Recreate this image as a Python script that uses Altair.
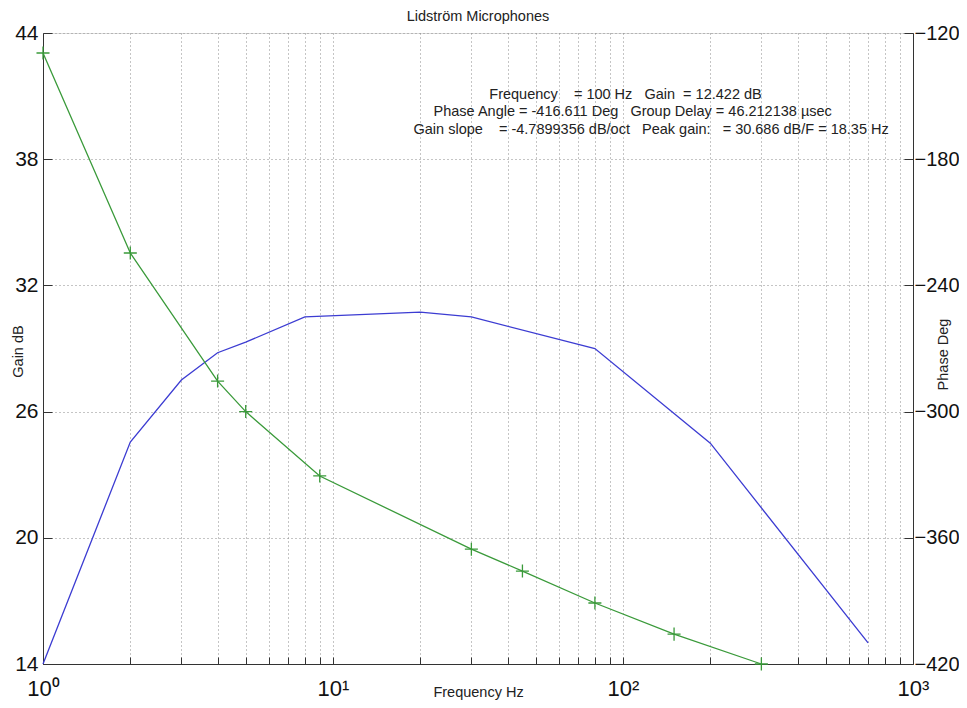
import altair as alt
import pandas as pd

# Gain curve (blue, left axis)
gain_freq = [1, 2, 3, 4, 5, 8, 20, 30, 80, 200, 700]
gain_db = [14.0, 24.55, 27.5, 28.8, 29.3, 30.5, 30.73, 30.5, 29.0, 24.5, 15.0]

# Phase curve (green with + markers, right axis)
phase_freq = [1, 2, 4, 5, 9, 30, 45, 80, 150, 300]
phase_deg = [-129.5, -224.6, -285.5, -300.0, -330.6, -365.4, -375.8, -391.0, -405.8, -420.0]

# Axis ticks
x_ticks = [1, 2, 3, 4, 5, 6, 7, 8, 9,
           10, 20, 30, 40, 50, 60, 70, 80, 90,
           100, 200, 300, 400, 500, 600, 700, 800, 900, 1000]
gain_ticks = [14, 20, 26, 32, 38, 44]
phase_ticks = [-420, -360, -300, -240, -180, -120]

# Annotation block
NB = "\u00a0"
ann_text = [
    f"Frequency{NB*4}={NB}100 Hz{NB*3}Gain{NB*2}={NB}12.422 dB",
    f"Phase Angle = -416.611 Deg{NB*2} Group Delay = 46.212138 \u00b5sec",
    f"Gain slope{NB*4}= -4.7899356 dB/oct{NB*3}Peak gain:{NB*3}= 30.686 dB/F = 18.35 Hz",
]
ann_freq = [102, 108, 125]
ann_gain = [41.05, 40.24, 39.39]

FONT = "Liberation Sans"
BLUE = "#3c3cd2"
GREEN = "#3a9a3a"
GRID = "#8a8a8a"
AXC = "#333333"
SMALL = 14.5

gain_df = pd.DataFrame({"f": gain_freq, "v": gain_db})
phase_df = pd.DataFrame({"f": phase_freq, "p": phase_deg})
ann_df = pd.DataFrame({"f": ann_freq, "v": ann_gain, "t": ann_text})

x_scale = alt.Scale(type="log", domain=[1, 1000], nice=False)
x_axis = alt.Axis(
    values=x_ticks, orient="bottom",
    labelExpr="datum.value == 1 ? '10\u2070' : datum.value == 10 ? '10\u00b9' : datum.value == 100 ? '10\u00b2' : datum.value == 1000 ? '10\u00b3' : ''",
    title="Frequency Hz",
    titleFontSize=SMALL, titleFontWeight="normal", titleFont=FONT, titleColor="#222",
    titleY=28, titleBaseline="middle",
    labelFontSize=22, labelFont=FONT, labelColor="#111", labelPadding=14,
    labelOverlap=False, labelFlush=False,
    grid=True, gridDash=[1, 3], gridColor=GRID, gridWidth=1,
    ticks=False, domainColor=AXC, domainWidth=1,
)
# inside tick marks (axis shifted into the plot, ticks pointing back to the edge)
x_tick_axis = alt.Axis(
    values=x_ticks, orient="bottom", offset=-7, tickSize=7, tickColor=AXC,
    labels=False, domain=False, grid=False, title="",
)

gain_scale = alt.Scale(domain=[14, 44], nice=False, zero=False)
left_axis = alt.Axis(
    values=gain_ticks, orient="left",
    title="Gain dB", titleFontSize=SMALL, titleFontWeight="normal", titleFont=FONT, titleColor="#222",
    titleX=-25, titleY=318, titleAngle=270, titleBaseline="middle", titleAlign="center",
    labelFontSize=21, labelFont=FONT, labelColor="#111", labelPadding=5,
    grid=True, gridDash=[1, 3], gridColor=GRID, gridWidth=1,
    ticks=False, domainColor=AXC, domainWidth=1,
)
left_tick_axis = alt.Axis(
    values=gain_ticks, orient="left", offset=-9, tickSize=9, tickColor=AXC,
    labels=False, domain=False, grid=False, title="",
)

phase_scale = alt.Scale(domain=[-420, -120], nice=False, zero=False)
right_axis = alt.Axis(
    values=phase_ticks, orient="right",
    title="Phase Deg", titleFontSize=SMALL, titleFontWeight="normal", titleFont=FONT, titleColor="#222",
    titleX=30, titleY=321, titleAngle=270, titleBaseline="middle", titleAlign="center",
    labelFontSize=20, labelFont=FONT, labelColor="#111", labelPadding=1,
    grid=False, ticks=False, domainColor=AXC, domainWidth=1,
)
right_tick_axis = alt.Axis(
    values=phase_ticks, orient="right", offset=-9, tickSize=9, tickColor=AXC,
    labels=False, domain=False, grid=False, title="",
)

blue_line = alt.Chart(gain_df).mark_line(color=BLUE, strokeWidth=1.3).encode(
    x=alt.X("f:Q", scale=x_scale, axis=x_axis),
    y=alt.Y("v:Q", scale=gain_scale, axis=left_axis),
)
ann = alt.Chart(ann_df).mark_text(
    font=FONT, fontSize=SMALL, color="#222", align="center", baseline="middle"
).encode(
    x=alt.X("f:Q", scale=x_scale, axis=x_axis),
    y=alt.Y("v:Q", scale=gain_scale, axis=left_tick_axis),
    text="t:N",
)
gain_layer = alt.layer(blue_line, ann).resolve_axis(y="independent")

green_line = alt.Chart(phase_df).mark_line(color=GREEN, strokeWidth=1.3).encode(
    x=alt.X("f:Q", scale=x_scale, axis=x_tick_axis),
    y=alt.Y("p:Q", scale=phase_scale, axis=right_axis),
)
green_pts = alt.Chart(phase_df).mark_point(
    shape="M-1,0L1,0M0,-1L0,1", size=170, filled=False, color=GREEN, strokeWidth=1.3, opacity=1
).encode(
    x=alt.X("f:Q", scale=x_scale, axis=x_tick_axis),
    y=alt.Y("p:Q", scale=phase_scale, axis=right_tick_axis),
)
phase_layer = alt.layer(green_line, green_pts).resolve_axis(y="independent")

chart = alt.layer(gain_layer, phase_layer).resolve_scale(y="independent").resolve_axis(
    x="independent"
).properties(
    width=870, height=631,
    autosize=alt.AutoSizeParams(type="none"),
    padding={"left": 35, "top": 25, "right": 46, "bottom": 36},
    title=alt.TitleParams("Lidstr\u00f6m Microphones", fontSize=SMALL, fontWeight="normal",
                          font=FONT, color="#222", offset=-2),
).configure_view(stroke=None).configure(background="white")

chart.save("out.html", embed_options={"renderer": "svg", "actions": False})
